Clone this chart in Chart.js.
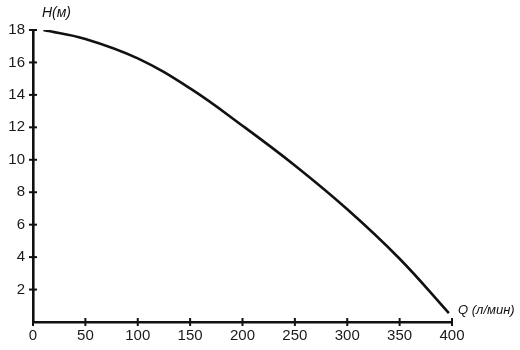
<!DOCTYPE html>
<html lang="ru">
    <head>
        <meta charset="UTF-8" />
        <title>Напорная характеристика насоса</title>
        <style>
            body {
                margin: 0;
                background: #fff;
            }
            .wrap {
                position: relative;
                width: 520px;
                height: 350px;
            }
        </style>
    </head>
    <body>
        <div class="wrap">
            <canvas id="pumpChart"></canvas>
        </div>

        <script src="https://cdn.jsdelivr.net/npm/chart.js"></script>
        <script>
            // данные
            const flowQ = [10, 50, 100, 150, 200, 250, 300, 350, 397]
            const headH = [18.0, 17.45, 16.25, 14.4, 12.1, 9.65, 6.95, 3.9, 0.55]
            const xTicks = [0, 50, 100, 150, 200, 250, 300, 350, 400]
            const yTicks = [2, 4, 6, 8, 10, 12, 14, 16, 18]
            const xTitle = "Q (л/мин)"
            const yTitle = "H(м)"

            const ink = "#111"

            // засечки поперёк осей и подписи осей
            const axisDecor = {
                id: "axisDecor",
                afterDraw(chart) {
                    const { ctx, chartArea, scales } = chart
                    ctx.save()
                    ctx.strokeStyle = ink
                    ctx.lineWidth = 2
                    xTicks.forEach((v) => {
                        const px = scales.x.getPixelForValue(v)
                        ctx.beginPath()
                        ctx.moveTo(px, chartArea.bottom - 4)
                        ctx.lineTo(px, chartArea.bottom + 4)
                        ctx.stroke()
                    })
                    yTicks.forEach((v) => {
                        const py = scales.y.getPixelForValue(v)
                        ctx.beginPath()
                        ctx.moveTo(chartArea.left - 4, py)
                        ctx.lineTo(chartArea.left + 4, py)
                        ctx.stroke()
                    })
                    ctx.fillStyle = ink
                    ctx.font = "italic 14px 'Liberation Sans', Arial, sans-serif"
                    ctx.textBaseline = "middle"
                    ctx.textAlign = "left"
                    ctx.fillText(yTitle, chartArea.left + 9, 13)
                    ctx.font = "italic 13px 'Liberation Sans', Arial, sans-serif"
                    ctx.fillText(xTitle, chartArea.right + 6, chartArea.bottom - 12)
                    ctx.restore()
                },
            }

            const ctx = document.getElementById("pumpChart").getContext("2d")
            new Chart(ctx, {
                type: "line",
                data: {
                    labels: flowQ,
                    datasets: [
                        {
                            data: flowQ.map((q, i) => ({ x: q, y: headH[i] })),
                            borderColor: ink,
                            borderWidth: 2.6,
                            pointRadius: 0,
                            fill: false,
                            tension: 0.4,
                        },
                    ],
                },
                options: {
                    responsive: true,
                    maintainAspectRatio: false,
                    animation: false,
                    layout: {
                        padding: { top: 30, right: 68, bottom: 0, left: 0 },
                    },
                    plugins: {
                        legend: { display: false },
                        tooltip: { enabled: false },
                    },
                    scales: {
                        x: {
                            type: "linear",
                            min: 0,
                            max: 400,
                            afterFit: (s) => {
                                s.height = 28
                            },
                            afterBuildTicks: (s) => {
                                s.ticks = xTicks.map((v) => ({ value: v }))
                            },
                            grid: { display: false, drawTicks: false },
                            border: { display: true, color: ink, width: 2.6 },
                            ticks: {
                                padding: 5,
                                color: "#1a1a1a",
                                maxRotation: 0,
                                font: { family: "'Liberation Sans', Arial", size: 15 },
                            },
                        },
                        y: {
                            min: 0,
                            max: 18,
                            afterFit: (s) => {
                                s.width = 33
                            },
                            afterBuildTicks: (s) => {
                                s.ticks = yTicks.map((v) => ({ value: v }))
                            },
                            grid: { display: false, drawTicks: false },
                            border: { display: true, color: ink, width: 2.6 },
                            ticks: {
                                padding: 8,
                                color: "#1a1a1a",
                                font: { family: "'Liberation Sans', Arial", size: 15 },
                            },
                        },
                    },
                },
                plugins: [axisDecor],
            })
        </script>
    </body>
</html>
